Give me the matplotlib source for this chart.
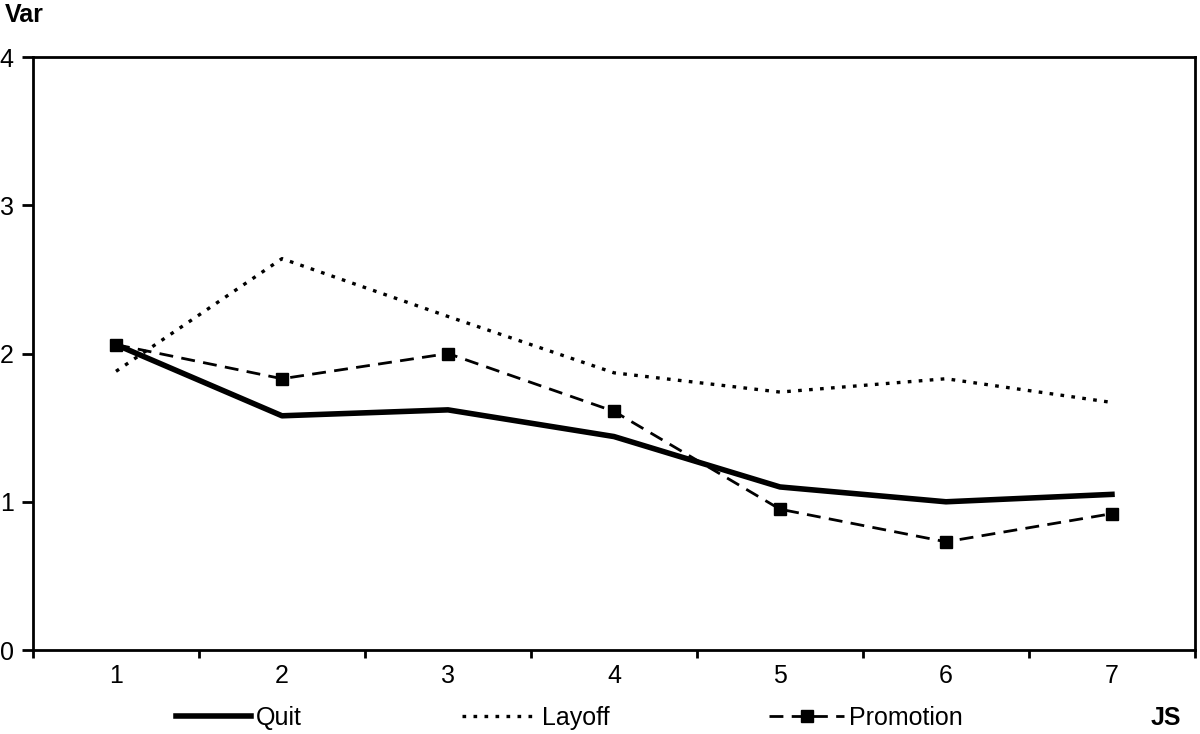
import matplotlib
matplotlib.use('agg')
import matplotlib.pyplot as plt
import numpy as np

plt.rcParams['font.family'] = ['Liberation Sans', 'DejaVu Sans']

######## data ########
js        = [1, 2, 3, 4, 5, 6, 7]
quit      = [2.06, 1.58, 1.62, 1.44, 1.10, 1.00, 1.05]
layoff    = [1.88, 2.64, 2.25, 1.87, 1.74, 1.83, 1.67]
promotion = [2.06, 1.83, 2.00, 1.61, 0.95, 0.73, 0.92]
yticks    = [0, 1, 2, 3, 4]

fs = 18

fig = plt.figure(figsize=(12, 7.34), dpi=100)
ax = fig.add_axes([0.0275, 0.1144, 0.9683, 0.8079])

l1, = ax.plot(js, quit, '-k', linewidth=4, label='Quit')
l2, = ax.plot(js, layoff, color='black', linewidth=2.4, linestyle=(0, (1.1, 2.2)), label='Layoff')
l3, = ax.plot(js, promotion, color='black', linewidth=2, linestyle=(0, (5, 3)),
              marker='s', markersize=8, label='Promotion')

ax.set_xlim(0.5, 7.5)
ax.set_ylim(0, 4)
ax.set_yticks(yticks)
ax.set_xticks(np.arange(0.5, 8.0, 1.0))
ax.set_xticklabels([])
ax.set_xticks(js, minor=True)
ax.set_xticklabels([str(j) for j in js], minor=True)
ax.tick_params(axis='x', which='major', direction='out', length=6, width=2)
ax.tick_params(axis='x', which='minor', length=0, pad=10, labelsize=fs)
ax.tick_params(axis='y', direction='out', length=8, width=2, pad=6, labelsize=fs)
for s in ax.spines.values():
    s.set_linewidth(2)

fig.text(0.004, 0.979, 'Var', fontsize=fs, fontweight='bold', va='center', ha='left')
fig.text(0.984, 0.022, 'JS', fontsize=fs, fontweight='bold', va='center', ha='right')

fig.legend(handles=[l1, l2, l3], loc='center', bbox_to_anchor=(0.4745, 0.022), ncol=3,
           frameon=False, fontsize=fs, handlelength=3.0, handletextpad=0.2,
           columnspacing=6.4, borderpad=0, borderaxespad=0)

fig.savefig('out.png', dpi=100)
